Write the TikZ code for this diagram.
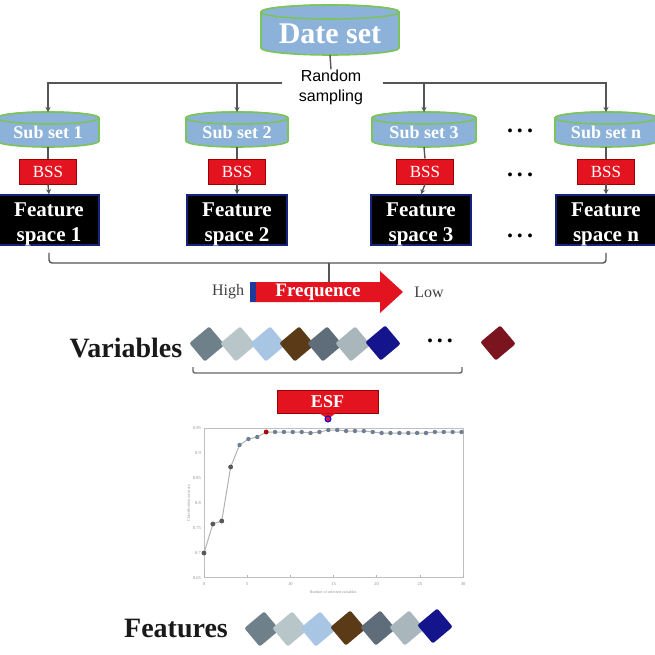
\documentclass[tikz,border=0pt]{standalone}
\usepackage{fontspec}
\setmainfont{Liberation Serif}
\newfontfamily\sansf{Liberation Sans}
\usetikzlibrary{arrows.meta}
\definecolor{cylblue}{HTML}{8CB2DA}
\definecolor{cylgreen}{HTML}{7CC35A}
\definecolor{bssred}{HTML}{E3131F}
\definecolor{navyb}{HTML}{16237A}
\definecolor{linegray}{HTML}{555555}
\definecolor{stripblue}{HTML}{1F3B9A}
\definecolor{gA}{HTML}{6E8089}
\definecolor{gB}{HTML}{B9C6C9}
\definecolor{gC}{HTML}{A8C6E4}
\definecolor{gD}{HTML}{5B3B17}
\definecolor{gE}{HTML}{5E6D79}
\definecolor{gF}{HTML}{A9B7BC}
\definecolor{gG}{HTML}{14148C}
\definecolor{gR}{HTML}{7A1520}
\definecolor{markc}{HTML}{6D7F93}
\newcommand\mycyl[8]{%
  \path[cylbody] (#2-#5,#3+#6) -- (#2-#5,#4-#6)
    arc[start angle=180,end angle=360,x radius=#5pt,y radius=#6pt]
    -- (#2+#5,#3+#6)
    arc[start angle=0,end angle=180,x radius=#5pt,y radius=#6pt] -- cycle;
  \path[cylbody] (#2,#3+#6) ellipse[x radius=#5pt,y radius=#6pt];
  \node[cyltext,font=#7] (#1) at (#2,{(#3+#4)/2+#6/2}) {#8};
  \coordinate (#1-t) at (#2,#3);
  \coordinate (#1-b) at (#2,#4);
}
\tikzset{
  cylbody/.style={fill=cylblue, draw=cylgreen, line width=1.6pt},
  cyltext/.style={text=white, inner sep=0pt},
  bssbox/.style={fill=bssred, draw=red!60!black, line width=0.8pt, minimum width=57pt, minimum height=25pt, inner sep=0pt, text=white, font=\fontsize{17}{17}\selectfont},
  fsbox/.style={fill=black, draw=navyb, line width=1.6pt, minimum width=100pt, minimum height=50pt, inner sep=0pt},
  fstext/.style={text=white, align=center, font=\fontsize{21}{25}\selectfont\bfseries, inner sep=0pt},
  conn/.style={draw=linegray, line width=1.4pt},
  arr/.style={conn, -{Stealth[length=5pt,width=5pt]}},
  dotsn/.style={font=\fontsize{24}{24}\selectfont\bfseries, inner sep=0pt},
  gem/.style={rectangle, minimum width=26pt, minimum height=24pt, rounded corners=2pt, rotate=40, inner sep=0pt},
  bigword/.style={font=\fontsize{28}{28}\selectfont\bfseries, text=black!90, inner sep=0pt},
  hilo/.style={font=\fontsize{16}{16}\selectfont, text=black!75, inner sep=0pt},
  tick/.style={font=\fontsize{4.5}{4.5}\selectfont, text=black!45, inner sep=0pt},
}
\begin{document}
\begin{tikzpicture}[x=1pt,y=-1pt]
\useasboundingbox (0,0) rectangle (655,655);
% data set
\mycyl{ds}{330}{5}{55}{69}{7}{\fontsize{30}{30}\selectfont\bfseries}{Date set}
\node[font=\sansf\fontsize{16}{20}\selectfont, align=center, inner sep=0pt] (rs) at (331,87) {Random\\sampling};
% subsets
\mycyl{s1}{48}{112}{147}{51}{6}{\fontsize{18}{18}\selectfont\bfseries}{Sub set 1}
\mycyl{s2}{237}{112}{147}{51}{6}{\fontsize{18}{18}\selectfont\bfseries}{Sub set 2}
\mycyl{s3}{424}{112}{147}{52}{6}{\fontsize{18}{18}\selectfont\bfseries}{Sub set 3}
\mycyl{s4}{606}{112}{147}{51}{6}{\fontsize{18}{18}\selectfont\bfseries}{Sub set n}
% BSS
\node[bssbox] (b1) at (48,171.5) {BSS};
\node[bssbox] (b2) at (237,171.5) {BSS};
\node[bssbox] (b3) at (425,171.5) {BSS};
\node[bssbox] (b4) at (606,171.5) {BSS};
% feature spaces
\node[fsbox] (f1) at (49,220) {};
\node[fsbox] (f2) at (237,220) {};
\node[fsbox] (f3) at (421,220) {};
\node[fsbox] (f4) at (606,220) {};
\node[fstext] (f1t) at (49,224.5) {Feature\\space 1};
\node[fstext] (f2t) at (237,224.5) {Feature\\space 2};
\node[fstext] (f3t) at (421,224.5) {Feature\\space 3};
\node[fstext] (f4t) at (606,224.5) {Feature\\space n};
% dots
\node[dotsn] (d1) at (520,131) {.\hspace{4pt}.\hspace{4pt}.};
\node[dotsn] (d2) at (520,175) {.\hspace{4pt}.\hspace{4pt}.};
\node[dotsn] (d3) at (520,236) {.\hspace{4pt}.\hspace{4pt}.};
% connectors top
\draw[conn] (ds-b) -- (rs.north);
\coordinate (hl) at (282,83);
\coordinate (hr) at (383,83);
\draw[arr] (hl) -| (s1-t);
\draw[arr] (s2-t |- hl) -- (s2-t);
\draw[arr] (hr) -| (s4-t);
\draw[arr] (s3-t |- hr) -- (s3-t);
\foreach \i in {1,2,3,4}{
  \draw[conn] (s\i-b) -- (b\i.north);
  \draw[arr] (b\i.south) -- (f\i.north);
}
% bracket below features
\coordinate (brk) at (329,263);
\coordinate (ftop) at (329,282);
\draw[conn, rounded corners=3pt] ([yshift=-7pt]f1.south) |- (brk) -| ([yshift=-7pt]f4.south);
% frequence arrow
\fill[bssred] (250,282) -- (380,282) -- (380,271) -- (403,292) -- (380,313) -- (380,302) -- (250,302) -- cycle;
\fill[stripblue] (250,282) rectangle (256,302);
\draw[conn] (brk) -- (ftop);
\node[font=\fontsize{19}{19}\selectfont\bfseries, text=white, inner sep=0pt] (freqt) at (318,292) {Frequence};
\node[hilo] (high) at (228,292) {High};
\node[hilo] (low) at (429,292) {Low};
% variables
\node[bigword] (vars) at (126,348) {Variables};
\node[gem, fill=gA] (v1) at (207,344) {};
\node[gem, fill=gB] (v2) at (238,344) {};
\node[gem, fill=gC] (v3) at (268,344) {};
\node[gem, fill=gD] (v4) at (297,344) {};
\node[gem, fill=gE] (v5) at (325,344) {};
\node[gem, fill=gF] (v6) at (353,344) {};
\node[gem, fill=gG] (v7) at (383,343) {};
\node[dotsn] (vdots) at (440,341) {.\hspace{4pt}.\hspace{4pt}.};
\node[gem, fill=gR] (vr) at (498,343) {};
\coordinate (vb1) at (193,367);
\coordinate (vb2) at (462,367);
\draw[conn, draw=black!60, rounded corners=2pt] (vb1) -- ++(0,6) -| (vb2);
% ESF
\node[bssbox, minimum width=101pt, minimum height=23pt, font=\fontsize{18}{18}\selectfont\bfseries] (esf) at (327.5,401.5) {ESF};
\coordinate (opt) at (328,419);
\fill[bssred] ([xshift=-8pt]esf.south) -- ([xshift=8pt]esf.south) -- (opt) -- cycle;
\draw[blue, fill=bssred, line width=1pt] (opt) circle[radius=3pt];
% plot
\draw[black!25, line width=0.6pt] (204,428) rectangle (463,577);
\foreach \yy [count=\n from 0] in {553,524,521,467,445,439,437,432,432,432,432,432,433,432,430,430,431,431,431,432,433,433,433,433,433,433,432,432,432,432}{
  \coordinate (p\n) at ({204+\n*8.88},\yy);
}
\draw[black!30, line width=1pt] (p0) \foreach \i in {1,...,29}{ -- (p\i)};
\foreach \i in {0,...,29}{ \fill[markc] (p\i) circle[radius=2.2pt]; }
\foreach \i in {0,1,2,3}{ \fill[black!65] (p\i) circle[radius=2.4pt]; }
\fill[red!70!black] (p7) circle[radius=2.4pt];
\foreach \v [count=\k from 0] in {0,5,10,15,20,25,30}{
  \node[tick] (xt\k) at ({204+\k*43.17},584) {\v};
  \draw[black!30, line width=0.4pt] ({204+\k*43.17},577) -- ({204+\k*43.17},575);
}
\foreach \v [count=\k from 0] in {0.95,0.9,0.85,0.8,0.75,0.7,0.65}{
  \node[tick, anchor=east] (yt\k) at (201,{428+\k*25}) {\v};
}
\node[tick, font=\fontsize{4}{4}\selectfont] (xl) at (333,592) {Number of selected variables};
\node[tick, font=\fontsize{4}{4}\selectfont, rotate=90] (yl) at (189,503) {Classification accuracy};
% features
\node[bigword] (feats) at (176,628) {Features};
\node[gem, fill=gA] (w1) at (262,629) {};
\node[gem, fill=gB] (w2) at (290,629) {};
\node[gem, fill=gC] (w3) at (318,629) {};
\node[gem, fill=gD] (w4) at (348,628) {};
\node[gem, fill=gE] (w5) at (378,628) {};
\node[gem, fill=gF] (w6) at (407,628) {};
\node[gem, fill=gG] (w7) at (435,626) {};
\end{tikzpicture}
\end{document}
